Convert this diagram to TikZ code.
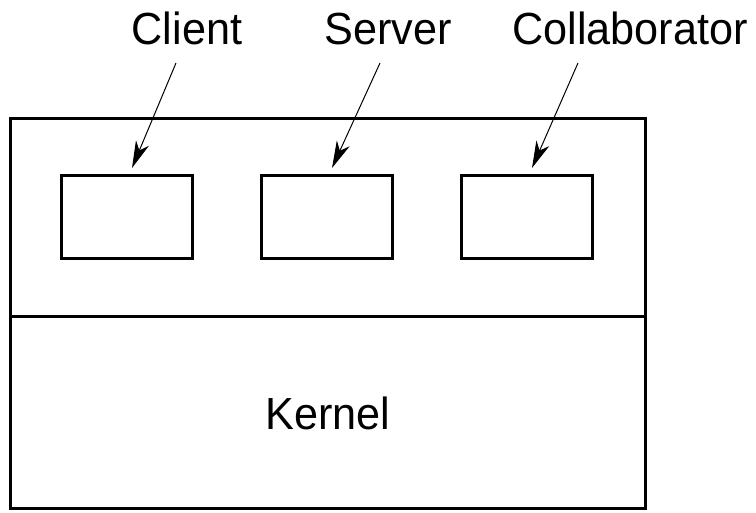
\documentclass[tikz,border=0pt]{standalone}
\usepackage{fontspec}
\setmainfont{Liberation Sans}
\usetikzlibrary{arrows.meta}
\usetikzlibrary{calc}

\begin{document}
\begin{tikzpicture}[x=1pt, y=-1pt, line width=3pt,
  procbox/.style={draw, rectangle, minimum width=131pt, minimum height=83pt, inner sep=0pt},
  lbl/.style={font=\fontsize{45}{52}\selectfont, inner sep=0pt, anchor=base, xscale=0.96},
  ptr/.style={line width=1pt, -{Stealth[length=27pt, width=14pt, inset=8pt]}}]
  \useasboundingbox (0,0) rectangle (756,513);
  % machine with user space and kernel
  \draw (10,119) rectangle (645,508);
  \draw (10,317) -- (645,317);
  \node[lbl] (kernel) at (328,429) {Kernel};
  \node[procbox] (b1) at (127,217) {};
  \node[procbox] (b2) at (327,217) {};
  \node[procbox] (b3) at (527,217) {};
  \node[lbl] (l1) at (187,45) {Client};
  \node[lbl] (l2) at (388,45) {Server};
  \node[lbl] (l3) at (630,45) {Collaborator};
  \coordinate (s1) at (176,63);
  \coordinate (s2) at (380,63);
  \coordinate (s3) at (578,63);
  \foreach \from/\to in {s1/b1, s2/b2, s3/b3}
   \draw[ptr] (\from) -- ([xshift=5pt,yshift=6pt]\to.north);
\end{tikzpicture}
\end{document}
